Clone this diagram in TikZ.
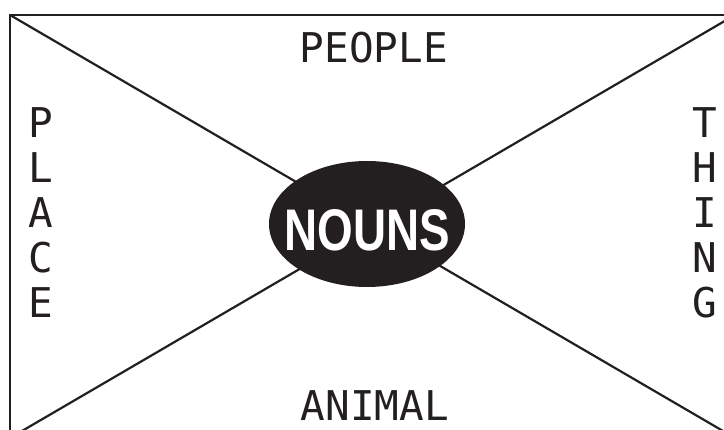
\documentclass[tikz,border=0pt]{standalone}
\usepackage{fontspec}
\usepackage{tikz}
\usetikzlibrary{shapes.geometric, positioning}
\newfontfamily\labelfont{DejaVu Sans Mono}
\newfontfamily\bubblefont{Liberation Sans}
\definecolor{inkdark}{RGB}{35,31,32}
\tikzset{
  frame/.style={draw=inkdark, line width=2.4pt},
  crossline/.style={draw=inkdark, line width=2.2pt},
  bubble/.style={
    ellipse, fill=inkdark, draw=none, inner sep=0pt,
    minimum width=196pt, minimum height=126pt
  },
  bubbletext/.style={
    text=white, inner sep=0pt,
    font=\bubblefont\bfseries\fontsize{58.7}{60}\selectfont
  },
  wordlabel/.style={
    text=inkdark, inner sep=0pt,
    font=\labelfont\fontsize{41}{45}\selectfont
  },
  sidelabel/.style={
    wordlabel, align=center
  },
}

\begin{document}
\begin{tikzpicture}[x=1pt, y=-1pt]
  \useasboundingbox (0,0) rectangle (724,430);
  \clip (0,0) rectangle (724,430);

  % frame corners (partly outside the page)
  \coordinate (tl) at (10,15);
  \coordinate (tr) at (735,15);
  \coordinate (bl) at (10,438);
  \coordinate (br) at (735,438);

  \draw[frame] (tl) rectangle (br);
  \draw[crossline] (tl) -- (br);
  \draw[crossline] (tr) -- (bl);

  \node[bubble] (nouns) at (367,224) {};
  \node[bubbletext] (nounstext) at ([yshift=-6pt]nouns.center)
    {\scalebox{0.78}[1]{NOUNS}};

  \node[wordlabel, anchor=base] (people) at (374,63) {PEOPLE};
  \node[wordlabel, anchor=base] (animal) at (375,421) {ANIMAL};
  \node[sidelabel] (place) at (41,212.5) {P\\L\\A\\C\\E};
  \node[sidelabel] (thing) at (705,212.5) {T\\H\\I\\N\\G};
\end{tikzpicture}
\end{document}
